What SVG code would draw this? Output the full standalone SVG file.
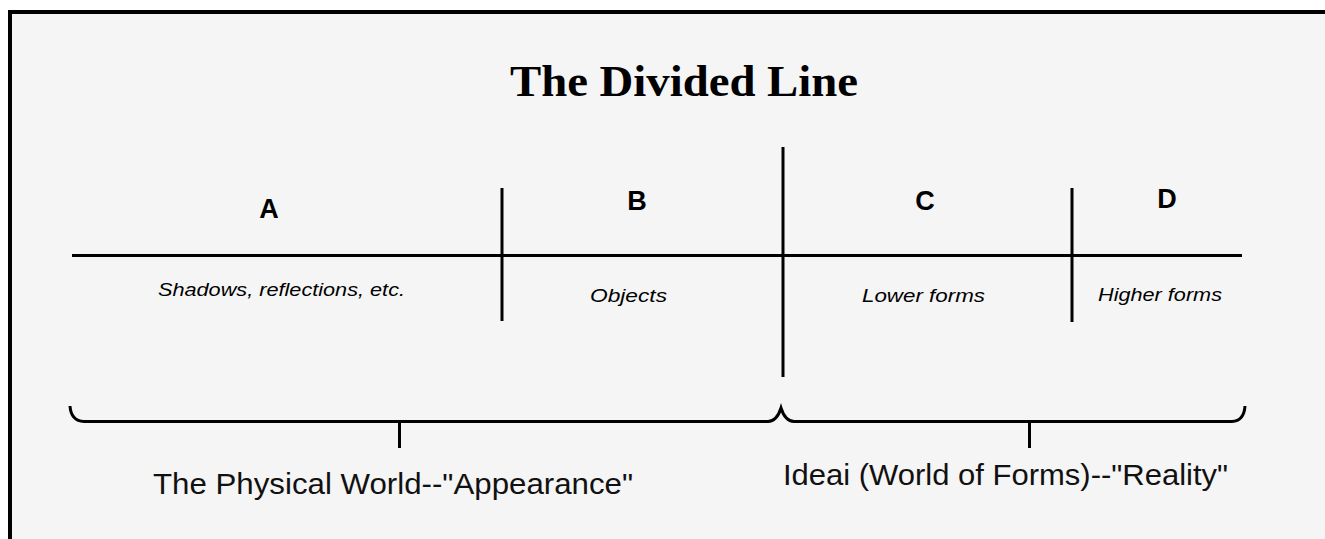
<svg xmlns="http://www.w3.org/2000/svg" width="1325" height="539" viewBox="0 0 1325 539">
  <style>
    .ln { stroke: #000; stroke-width: 3; fill: none; }
    .title { font-family: "Liberation Serif", "Times New Roman", serif; font-weight: bold; font-size: 45px; fill: #000; }
    .seg { font-family: "Liberation Sans", Arial, sans-serif; font-weight: bold; font-size: 27px; fill: #000; }
    .desc { font-family: "Liberation Sans", Arial, sans-serif; font-style: italic; font-size: 18px; fill: #000; }
    .world { font-family: "Liberation Sans", Arial, sans-serif; font-size: 30px; fill: #111; }
  </style>
  <rect x="0" y="0" width="1325" height="539" fill="#ffffff"/>
  <rect x="10" y="12" width="1340" height="560" fill="#f5f5f5" stroke="#000" stroke-width="4"/>

  <g id="title">
    <text class="title" x="510" y="96" textLength="348" lengthAdjust="spacingAndGlyphs">The Divided Line</text>
  </g>

  <g id="connectors">
    <line class="ln" x1="72" y1="255.5" x2="1242" y2="255.5"/>
    <line class="ln" x1="502" y1="188" x2="502" y2="321"/>
    <line class="ln" x1="783" y1="147" x2="783" y2="377"/>
    <line class="ln" x1="1072" y1="188" x2="1072" y2="322"/>
    <path class="ln" d="M70,406 Q71,421 84,421.5 L768,421.5 Q777,421 781,408 Q785,421 794,421.5 L1232,421.5 Q1244,421 1245,406"/>
    <line class="ln" x1="399.5" y1="421" x2="399.5" y2="448"/>
    <line class="ln" x1="1029.5" y1="421" x2="1029.5" y2="448"/>
  </g>

  <g id="segment-a">
    <text class="seg" x="269" y="218" text-anchor="middle">A</text>
    <text class="desc" x="158" y="296" textLength="247" lengthAdjust="spacingAndGlyphs">Shadows, reflections, etc.</text>
  </g>
  <g id="segment-b">
    <text class="seg" x="637" y="210" text-anchor="middle">B</text>
    <text class="desc" x="590" y="302" textLength="77" lengthAdjust="spacingAndGlyphs">Objects</text>
  </g>
  <g id="segment-c">
    <text class="seg" x="925" y="210" text-anchor="middle">C</text>
    <text class="desc" x="862" y="302" textLength="123" lengthAdjust="spacingAndGlyphs">Lower forms</text>
  </g>
  <g id="segment-d">
    <text class="seg" x="1167" y="208" text-anchor="middle">D</text>
    <text class="desc" x="1098" y="301" textLength="124" lengthAdjust="spacingAndGlyphs">Higher forms</text>
  </g>

  <g id="physical-world">
    <text class="world" x="153" y="494" textLength="480" lengthAdjust="spacingAndGlyphs">The Physical World--"Appearance"</text>
  </g>
  <g id="ideai">
    <text class="world" x="783" y="485" textLength="445" lengthAdjust="spacingAndGlyphs">Ideai (World of Forms)--"Reality"</text>
  </g>
</svg>
